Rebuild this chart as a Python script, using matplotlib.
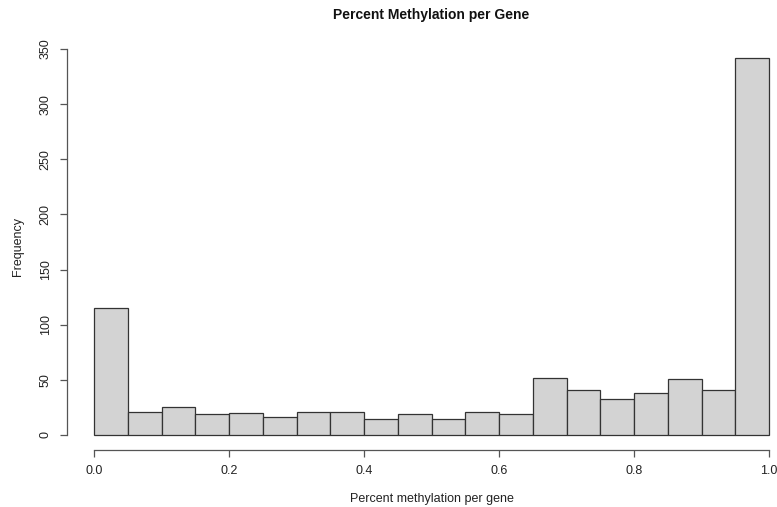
import matplotlib.pyplot as plt
import numpy as np

plt.rcParams['font.family'] = ['Liberation Sans', 'DejaVu Sans']

# histogram counts per 0.05 bin
bin_edges = np.round(np.arange(0, 1.0001, 0.05), 2)
counts = [115, 21, 25, 19, 20, 16, 21, 21, 14, 19,
          14, 21, 19, 52, 41, 33, 38, 51, 41, 342]
xticks = [0.0, 0.2, 0.4, 0.6, 0.8, 1.0]
yticks = [0, 50, 100, 150, 200, 250, 300, 350]

W, H = 777, 507
fig = plt.figure(figsize=(W / 100, H / 100), dpi=100)
# R-style plot region (extends past the right edge, as in the cropped original)
left, right, top, bottom = 67, 796, 42.7, 450
ax = fig.add_axes([left / W, 1 - bottom / H, (right - left) / W, (bottom - top) / H])

ax.bar(bin_edges[:-1], counts, width=0.05, align='edge',
       color='#d3d3d3', edgecolor='#333333', linewidth=0.9)

ax.set_xlim(-0.04, 1.04)
ax.set_ylim(-0.04 * 342, 342 * 1.04)

for s in ['top', 'right']:
    ax.spines[s].set_visible(False)
ax.spines['left'].set_bounds(0, 350)
ax.spines['bottom'].set_bounds(0, 1)
for s in ['left', 'bottom']:
    ax.spines[s].set_color('#555555')
    ax.spines[s].set_linewidth(0.9)

ax.set_xticks(xticks)
ax.set_xticklabels([f"{t:.1f}" for t in xticks])
ax.set_yticks(yticks)
ax.set_yticklabels([str(t) for t in yticks], rotation=90, va='center')
ax.tick_params(direction='out', length=5, width=0.9, color='#555555',
               labelsize=9, labelcolor='#222222', pad=6)

ax.set_xlabel("Percent methylation per gene", fontsize=9, color='#222222', labelpad=11)
ax.set_ylabel("Frequency", fontsize=9, color='#222222', labelpad=11)
fig.text(431 / W, 1 - 15 / H, "Percent Methylation per Gene", ha='center', va='center',
         fontsize=10, fontweight='bold', color='#111111')

fig.savefig("out.png", dpi=100)
